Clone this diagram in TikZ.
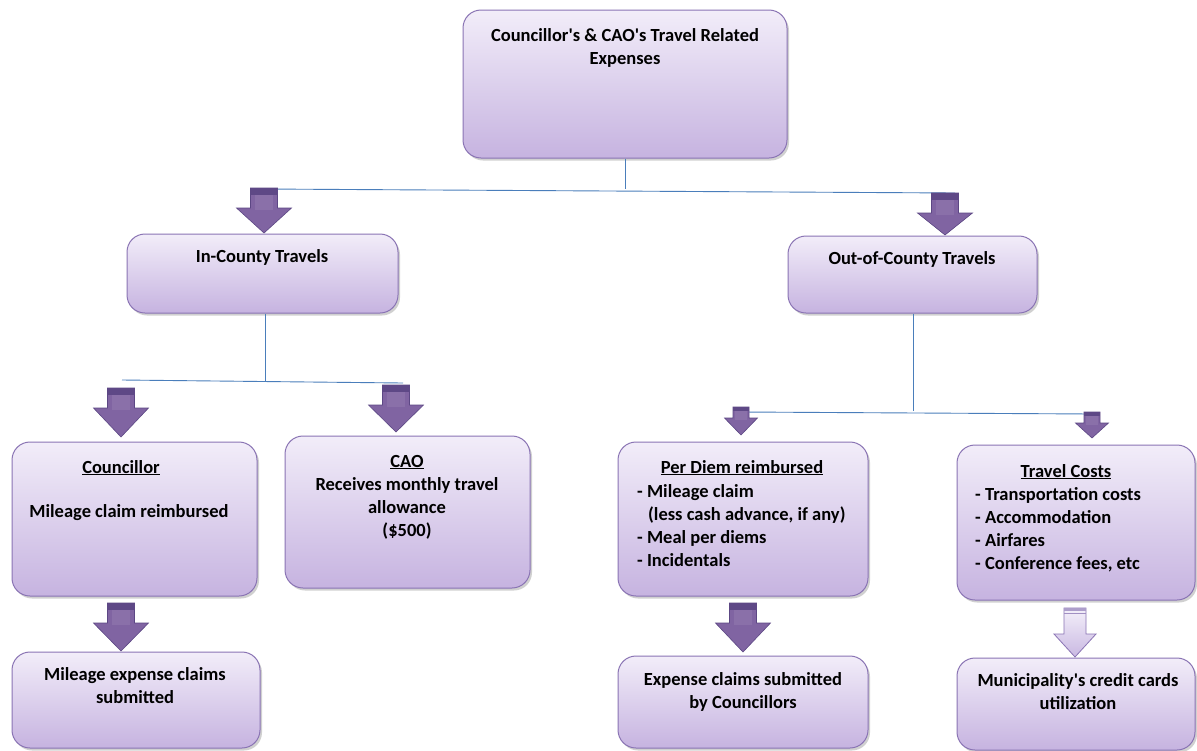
\documentclass[tikz,border=0pt]{standalone}
\usepackage{fontspec}
\setmainfont{Carlito}
\usetikzlibrary{shadows}
\definecolor{boxtop}{HTML}{F2EDF9}
\definecolor{boxbot}{HTML}{C6B3E0}
\definecolor{boxline}{HTML}{8A74B4}
\definecolor{arrfill}{HTML}{8064A2}
\definecolor{arrdark}{HTML}{5E4886}
\definecolor{arrline}{HTML}{5C4784}
\definecolor{linkblue}{HTML}{4A7EBB}
\definecolor{hollowtop}{HTML}{F4F0FA}
\definecolor{hollowbot}{HTML}{C9B8E2}
\tikzset{
  box/.style={draw=boxline, line width=1pt, rounded corners=18pt,
    top color=boxtop, bottom color=boxbot, inner sep=0pt,
    drop shadow={shadow xshift=2pt, shadow yshift=-2.5pt, opacity=0.3, fill=black!60}},
  txt/.style={font=\bfseries\fontsize{18.5}{23}\selectfont, align=center, inner sep=0pt, anchor=base},
  ltxt/.style={font=\bfseries\fontsize{18.5}{23}\selectfont, align=left, inner sep=0pt, anchor=base west},
  link/.style={draw=linkblue, line width=0.9pt},
  pics/downarr/.style n args={4}{% shaft half width, head half width, head start, tip
    code={
      \path[fill=arrfill, draw=arrline, line width=0.6pt]
        (-#1,0) -- (#1,0) -- (#1,#3) -- (#2,#3) -- (0,#4) -- (-#2,#3) -- (-#1,#3) -- cycle;
      \path[fill=arrdark] (-#1,0) rectangle (#1,0.35*#3);
      \path[fill=arrfill!92!white] (-0.7*#1,0.35*#3) -- (0.7*#1,0.35*#3) -- (0.7*#1,#3+2) -- (-0.7*#1,#3+2) -- cycle;
    }},
  pics/hollowarr/.style n args={4}{%
    code={
      \path[top color=hollowtop, bottom color=hollowbot, draw=boxline, line width=0.8pt]
        (-#1,0) -- (#1,0) -- (#1,#3) -- (#2,#3) -- (0,#4) -- (-#2,#3) -- (-#1,#3) -- cycle;
      \path[fill=boxline!70] (-#1,0) rectangle (#1,3);
      \path[draw=boxline!80, line width=0.6pt] (-#1,5) -- (#1,5);
    }},
}
\newcommand{\ul}[1]{\underline{#1}}
\newcommand{\apos}{\textquotesingle}
\begin{document}
\begin{tikzpicture}[x=1pt,y=-1pt]
\useasboundingbox (0,0) rectangle (1197,750);
\fill[white] (0,0) rectangle (1197,750);

% boxes
\node[box, minimum width=324pt, minimum height=148pt] (top) at (625,84) {};
\node[box, minimum width=271pt, minimum height=79pt] (inc) at (262.5,273.5) {};
\node[box, minimum width=249pt, minimum height=77pt] (outc) at (912.5,274.5) {};
\node[box, minimum width=245pt, minimum height=154pt] (coun) at (134.5,519) {};
\node[box, minimum width=245pt, minimum height=152pt] (cao) at (407.5,512) {};
\node[box, minimum width=250pt, minimum height=154pt] (perd) at (743,519) {};
\node[box, minimum width=238pt, minimum height=155pt] (trav) at (1076,522.5) {};
\node[box, minimum width=248pt, minimum height=96pt] (mile) at (136,700) {};
\node[box, minimum width=250pt, minimum height=92pt] (expc) at (743,702) {};
\node[box, minimum width=238pt, minimum height=92pt] (muni) at (1076,704) {};

% texts (multi-line nodes: base = last line's baseline)
\node[txt] (ttop) at (625,64) {Councillor\apos s \& CAO\apos s Travel Related\\Expenses};
\node[txt] (tinc) at (262,262) {In-County Travels};
\node[txt] (toutc) at (912,264) {Out-of-County Travels};
\node[txt] (tcoun1) at (121,473) {\ul{Councillor}};
\node[txt] (tcoun2) at (129,517) {Mileage claim reimbursed};
\node[txt] (tcao) at (407,536) {\ul{CAO}\\Receives monthly travel\\allowance\\(\$500)};
\node[txt] (tperd) at (742,473) {\ul{Per Diem reimbursed}};
\node[ltxt] (tperd2) at (637,497) {- Mileage claim};
\node[ltxt] (tperd3) at (648,520) {(less cash advance, if any)};
\node[ltxt] (tperd4) at (637,543) {- Meal per diems};
\node[ltxt] (tperd5) at (637,566) {- Incidentals};
\node[txt] (ttrav) at (1066,477) {\ul{Travel Costs}};
\node[ltxt] (ttrav2) at (975,569) {- Transportation costs\\- Accommodation\\- Airfares\\- Conference fees, etc};
\node[txt] (tmile) at (135,703) {Mileage expense claims\\submitted};
\node[txt] (texpc) at (743,708) {Expense claims submitted\\by Councillors};
\node[txt] (tmuni) at (1078,709) {Municipality\apos s credit cards\\utilization};

% connectors
\coordinate (j1) at (625,189);
\coordinate (j1l) at (262,189);
\coordinate (j1r) at (955,193);
\draw[link] (top.south) -- (j1);
\draw[link] (j1l) -- (j1r);

\coordinate (j2) at (265,381);
\coordinate (j2l) at (122,380);
\coordinate (j2r) at (403,383);
\draw[link] (inc.south -| j2) -- (j2);
\draw[link] (j2l) -- (j2r);

\coordinate (j3) at (913,411);
\coordinate (j3l) at (742,412);
\coordinate (j3r) at (1092,414);
\draw[link] (outc.south -| j3) -- (j3);
\draw[link] (j3l) -- (j3r);

% arrows
\pic at (264,188) {downarr={13.5}{27.5}{20}{45}};
\pic at (945,193) {downarr={13.5}{27.5}{20}{42}};
\pic at (121,388) {downarr={13.5}{27.5}{20}{49}};
\pic at (396,385) {downarr={13.5}{27.5}{20}{47}};
\pic at (741,407) {downarr={8}{16.5}{11}{28}};
\pic at (1092,412) {downarr={8}{16.5}{11}{26}};
\pic at (121,603) {downarr={13.5}{27.5}{20}{48}};
\pic at (743,603) {downarr={13.5}{27.5}{20}{49}};
\pic at (1075,608) {hollowarr={11}{21}{26}{49}};
\end{tikzpicture}
\end{document}
